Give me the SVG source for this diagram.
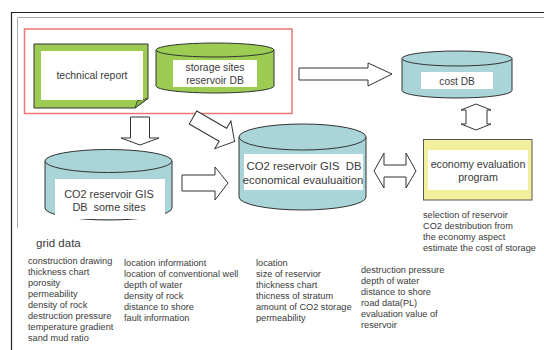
<svg xmlns="http://www.w3.org/2000/svg" width="544" height="350" viewBox="0 0 544 350">
<style>
  text { font-family: "Liberation Sans", Arial, sans-serif; fill: #3a3a3a; white-space: pre; }
  .lbl { font-size: 10.4px; text-anchor: middle; }
  .big { font-size: 11.3px; text-anchor: middle; }
  .lst { font-size: 9.2px; }
  .shape { stroke: #333; stroke-width: 1; }
  .green { fill: #9ccd52; }
  .blue { fill: #a9d4d8; }
  .white { fill: #ffffff; stroke: none; }
  .arrow { fill: #ffffff; stroke: #333; stroke-width: 1; }
</style>

<g id="frame">
  <polyline points="11.5,350 11.5,12.5 544,12.5" fill="none" stroke="#222" stroke-width="1.2"/>
  <polyline points="17.5,228 17.5,17.5 544,17.5" fill="none" stroke="#aaa" stroke-width="1"/>
  <rect x="24.5" y="29" width="267.5" height="84.5" fill="none" stroke="#f07474" stroke-width="1.5"/>
</g>

<g id="technical-report">
  <path class="shape green" d="M34,44 H148 V98.5 L135,108 H34 Z"/>
  <path d="M135,108 L137.5,100.5 L148,98.5 Z" fill="#86b844" stroke="#333" stroke-width="0.8"/>
  <rect class="white" x="41" y="51" width="102" height="49"/>
  <text class="lbl" x="92" y="79">technical report</text>
</g>

<g id="storage-sites-db">
  <path class="shape green" d="M156,50 V86 A59,7 0 0 0 274,86 V50"/>
  <ellipse class="shape green" cx="215" cy="50" rx="59" ry="7"/>
  <rect class="white" x="173" y="60" width="84" height="27"/>
  <text class="lbl" x="215" y="71">storage sites</text>
  <text class="lbl" x="215" y="84">reservoir DB</text>
</g>

<g id="cost-db">
  <path class="shape blue" d="M402,58.5 V90.5 A55,7.5 0 0 0 512,90.5 V58.5"/>
  <ellipse class="shape blue" cx="457" cy="58.5" rx="55" ry="7.5"/>
  <rect class="white" x="421" y="72" width="72" height="17"/>
  <text class="lbl" x="457" y="84.5" style="font-size:10.1px">cost DB</text>
</g>

<g id="gis-some-sites">
  <path class="shape blue" d="M45,161 V208 A63.5,12 0 0 0 172,208 V161"/>
  <ellipse class="shape blue" cx="108.5" cy="161" rx="63.5" ry="11.5"/>
  <rect class="white" x="55" y="179" width="110" height="40"/>
  <text class="big" x="109" y="197.5" style="font-size:10.9px">CO2 reservoir GIS</text>
  <text class="big" x="109" y="211" style="font-size:10.9px">DB  some sites</text>
</g>

<g id="gis-economical">
  <path class="shape blue" d="M239,137 V197 A63.5,13 0 0 0 366,197 V137"/>
  <ellipse class="shape blue" cx="302.5" cy="137" rx="63.5" ry="13"/>
  <rect class="white" x="244" y="154" width="119" height="36"/>
  <text class="big" x="304" y="170">CO2 reservoir GIS  DB</text>
  <text class="big" x="303" y="183.5">economical evauluaition</text>
</g>

<g id="economy-program">
  <rect x="423.5" y="139.5" width="108.5" height="60.5" fill="#f2f09c" stroke="#555" stroke-width="1"/>
  <rect class="white" x="428" y="150" width="100" height="40"/>
  <text class="lbl" x="478" y="167.5" style="font-size:10.65px">economy evaluation</text>
  <text class="lbl" x="478" y="181" style="font-size:10.65px">program</text>
  <text class="lst" x="423" y="217.5">selection of reservoir</text>
  <text class="lst" x="423" y="228.5">CO2 destribution from</text>
  <text class="lst" x="423" y="239.5">the economy aspect</text>
  <text class="lst" x="423" y="251">estimate the cost of storage</text>
</g>

<g id="connectors">
  <polygon class="arrow" points="299,68 368,68 368,63 392,74 368,86 368,80 299,80"/>
  <polygon class="arrow" points="476,104 491,110 487,110 487,124 491,124 476,130 461,124 466,124 466,110 461,110"/>
  <polygon class="arrow" points="374,171 384,153 384,165 406,165 406,153 416,171 406,188 406,177 384,177 384,188"/>
  <polygon class="arrow" points="130.5,117 149.5,117 149.5,138 159,138 140,145 121,138 130.5,138"/>
  <polygon class="arrow" points="182,175 215,175 215,167 228,183 215,200 215,191 182,191"/>
  <polygon class="arrow" transform="translate(193,117.5) rotate(30)" points="0,-7.5 34.5,-7.5 34.5,-16 48,0 34.5,16 34.5,7.5 0,7.5"/>
</g>

<g id="notes">
  <text x="36" y="247" style="font-size:11.5px">grid data</text>
  <text class="lst" x="28" y="263.5">construction drawing</text>
  <text class="lst" x="28" y="274.5">thickness chart</text>
  <text class="lst" x="28" y="285.5">porosity</text>
  <text class="lst" x="28" y="296.5">permeability</text>
  <text class="lst" x="28" y="307.5">density of rock</text>
  <text class="lst" x="28" y="319">destruction pressure</text>
  <text class="lst" x="28" y="330">temperature gradient</text>
  <text class="lst" x="28" y="341">sand mud ratio</text>

  <text class="lst" x="124" y="265.5">location informationt</text>
  <text class="lst" x="124" y="276.5">location of conventional well</text>
  <text class="lst" x="124" y="287.5">depth of water</text>
  <text class="lst" x="124" y="299">density of rock</text>
  <text class="lst" x="124" y="310">distance to shore</text>
  <text class="lst" x="124" y="321">fault information</text>

  <text class="lst" x="256" y="265.5">location</text>
  <text class="lst" x="256" y="276.5">size of reservior</text>
  <text class="lst" x="256" y="287.5">thickness chart</text>
  <text class="lst" x="256" y="299">thicness of stratum</text>
  <text class="lst" x="256" y="310">amount of CO2 storage</text>
  <text class="lst" x="256" y="321">permeability</text>

  <text class="lst" x="361" y="272.5">destruction pressure</text>
  <text class="lst" x="361" y="283.5">depth of water</text>
  <text class="lst" x="361" y="294.5">distance to shore</text>
  <text class="lst" x="361" y="305.5">road data(PL)</text>
  <text class="lst" x="361" y="316.5">evaluation value of</text>
  <text class="lst" x="361" y="327.5">reservoir</text>
</g>
</svg>
